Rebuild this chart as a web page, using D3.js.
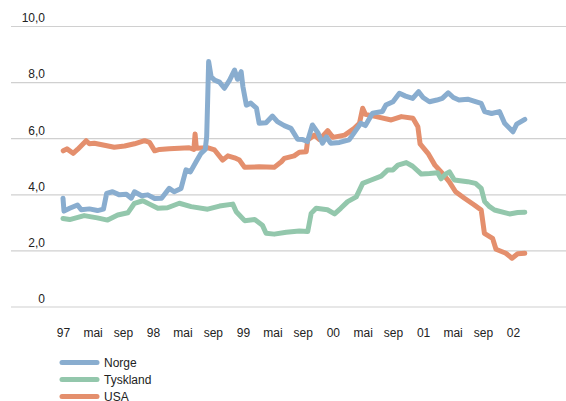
<!DOCTYPE html>
<html>
<head>
<meta charset="utf-8">
<script src="https://cdn.jsdelivr.net/npm/d3@7"></script>
<style>
  html, body { margin: 0; padding: 0; background: #fff; }
  svg { display: block; font-family: "Liberation Sans", Arial, Helvetica, sans-serif; }
</style>
</head>
<body>
<svg id="chart" width="566" height="401"></svg>
<script>
// ---- data ----
const seriesNames = ["Norge", "Tyskland", "USA"];
const seriesColors = ["#89adcf", "#93c7ac", "#e48f6d"];

const norgeDates = ["1997-01-01","1997-01-05","1997-01-28","1997-03-01","1997-03-16","1997-04-18","1997-05-21","1997-06-14","1997-06-27","1997-07-21","1997-08-18","1997-09-15","1997-10-05","1997-10-18","1997-11-16","1997-12-11","1998-01-08","1998-02-05","1998-03-08","1998-03-28","1998-04-25","1998-05-15","1998-06-02","1998-06-25","1998-07-15","1998-08-01","1998-08-07","1998-08-11","1998-08-15","1998-08-25","1998-09-08","1998-09-28","1998-10-18","1998-11-08","1998-11-28","1998-12-10","1998-12-25","1999-01-01","1999-01-15","1999-02-02","1999-02-25","1999-03-08","1999-04-05","1999-05-01","1999-05-21","1999-06-18","1999-07-15","1999-08-11","1999-09-01","1999-09-20","1999-10-10","1999-11-01","1999-11-20","1999-12-06","1999-12-23","2000-01-28","2000-03-07","2000-03-28","2000-04-23","2000-05-12","2000-06-10","2000-07-20","2000-08-03","2000-09-01","2000-09-27","2000-10-22","2000-11-20","2000-12-14","2001-01-01","2001-01-27","2001-02-26","2001-03-20","2001-04-13","2001-05-04","2001-05-27","2001-07-01","2001-08-02","2001-08-25","2001-09-08","2001-10-06","2001-11-07","2001-11-28","2002-01-01","2002-01-16","2002-02-18"];
const norgeValues = [3.86,3.40,3.50,3.62,3.45,3.48,3.42,3.47,4.03,4.09,3.98,4.00,3.86,4.09,3.95,3.98,3.85,3.86,4.21,4.09,4.21,4.87,4.80,5.16,5.46,5.60,6.05,7.36,8.73,8.19,8.07,8.00,7.78,8.07,8.43,8.10,8.37,7.84,7.18,7.25,7.07,6.53,6.55,6.79,6.59,6.45,6.35,5.96,5.95,5.88,6.47,6.20,5.82,6.05,5.82,5.85,5.94,6.20,6.53,6.45,6.89,6.95,7.18,7.30,7.60,7.50,7.42,7.66,7.45,7.30,7.36,7.42,7.62,7.45,7.36,7.39,7.30,7.24,6.95,6.88,6.95,6.53,6.23,6.50,6.67];

const tysklandDates = ["1997-01-01","1997-01-28","1997-03-28","1997-05-20","1997-07-01","1997-08-11","1997-09-21","1997-10-18","1997-11-21","1997-12-18","1998-01-21","1998-03-01","1998-04-18","1998-06-05","1998-08-11","1998-09-28","1998-11-21","1998-12-05","1999-01-08","1999-02-18","1999-03-21","1999-04-05","1999-05-08","1999-06-26","1999-08-18","1999-09-21","1999-10-05","1999-10-25","1999-12-10","2000-01-08","2000-02-02","2000-03-01","2000-04-05","2000-05-01","2000-06-02","2000-07-15","2000-08-11","2000-09-01","2000-09-21","2000-10-25","2000-11-20","2000-12-25","2001-01-28","2001-03-01","2001-03-15","2001-04-02","2001-04-18","2001-05-08","2001-07-01","2001-08-02","2001-08-25","2001-09-08","2001-09-28","2001-10-18","2001-12-18","2002-01-20","2002-02-18"];
const tysklandValues = [3.14,3.10,3.24,3.16,3.08,3.26,3.34,3.68,3.77,3.65,3.50,3.52,3.68,3.56,3.47,3.58,3.65,3.38,3.06,3.10,2.90,2.61,2.58,2.65,2.69,2.67,3.32,3.50,3.45,3.30,3.50,3.74,3.91,4.39,4.50,4.65,4.87,4.87,5.04,5.13,5.00,4.72,4.74,4.77,4.55,4.72,4.80,4.51,4.45,4.39,4.21,3.74,3.56,3.44,3.30,3.35,3.36];

const usaDates = ["1997-01-02","1997-01-17","1997-02-11","1997-03-01","1997-04-05","1997-04-18","1997-05-08","1997-06-18","1997-07-28","1997-09-08","1997-10-18","1997-11-28","1997-12-18","1998-01-08","1998-01-28","1998-03-08","1998-04-18","1998-05-28","1998-06-16","1998-06-21","1998-06-26","1998-08-10","1998-09-08","1998-10-11","1998-11-01","1998-11-28","1998-12-18","1999-01-08","1999-03-08","1999-05-08","1999-06-06","1999-06-18","1999-07-28","1999-08-18","1999-09-15","1999-09-21","1999-10-18","1999-11-08","1999-12-11","2000-01-01","2000-02-18","2000-03-28","2000-04-18","2000-05-01","2000-05-12","2000-06-25","2000-08-25","2000-10-05","2000-11-21","2000-12-11","2000-12-20","2001-01-21","2001-02-18","2001-03-20","2001-04-17","2001-05-13","2001-06-18","2001-07-28","2001-08-25","2001-09-07","2001-10-10","2001-10-24","2001-12-03","2001-12-28","2002-01-20","2002-02-18"];
const usaValues = [5.55,5.62,5.46,5.60,5.91,5.80,5.82,5.75,5.68,5.72,5.80,5.91,5.85,5.55,5.60,5.62,5.64,5.66,5.60,6.15,5.64,5.66,5.58,5.22,5.37,5.30,5.22,4.96,4.98,4.96,5.16,5.28,5.37,5.50,5.52,5.94,6.11,5.95,6.27,6.03,6.11,6.35,6.53,7.07,6.85,6.77,6.65,6.77,6.71,6.41,5.80,5.46,5.04,4.75,4.45,4.09,3.86,3.62,3.44,2.61,2.43,2.04,1.90,1.72,1.88,1.90];

const yTickValues = [0, 2, 4, 6, 8, 10];
const yTickLabels = ["0", "2,0", "4,0", "6,0", "8,0", "10,0"];
const xTickDates = ["1997-01-01","1997-05-01","1997-09-01","1998-01-01","1998-05-01","1998-09-01","1999-01-01","1999-05-01","1999-09-01","2000-01-01","2000-05-01","2000-09-01","2001-01-01","2001-05-01","2001-09-01","2002-01-01"];
const xTickLabels = ["97","mai","sep","98","mai","sep","99","mai","sep","00","mai","sep","01","mai","sep","02"];

// ---- drawing ----
const parse = d3.timeParse("%Y-%m-%d");
const svg = d3.select("#chart");

const x = d3.scaleTime()
  .domain([parse("1997-01-01"), parse("2002-01-01")])
  .range([63, 513]);
const y = d3.scaleLinear().domain([0, 10]).range([306.5, 26]);

const gridLeft = 11, gridRight = 566;

// y axis with gridlines
const yAxis = d3.axisLeft(y)
  .tickValues(yTickValues)
  .tickSize(gridRight - gridLeft)
  .tickFormat((d, i) => yTickLabels[i]);
const gy = svg.append("g").attr("transform", `translate(${gridRight},0)`).call(yAxis);
gy.select(".domain").remove();
gy.selectAll(".tick line").attr("stroke", "#d0d0d0").attr("stroke-width", 1.2);
gy.selectAll(".tick text")
  .attr("x", 45 - gridRight)
  .attr("dy", "-0.35em")
  .attr("text-anchor", "end")
  .attr("font-size", 12)
  .attr("fill", "#222")
  .attr("font-family", "Liberation Sans, Arial, sans-serif");

// x axis labels
const xTicks = xTickDates.map(parse);
const xAxis = d3.axisBottom(x)
  .tickValues(xTicks)
  .tickSize(0)
  .tickFormat((d, i) => xTickLabels[i]);
const gx = svg.append("g").attr("transform", "translate(0,325)").call(xAxis);
gx.select(".domain").remove();
gx.selectAll(".tick text")
  .attr("font-size", 12)
  .attr("fill", "#222")
  .attr("font-family", "Liberation Sans, Arial, sans-serif");

// series
const series = [
  { name: "USA", color: seriesColors[2], dates: usaDates, values: usaValues },
  { name: "Tyskland", color: seriesColors[1], dates: tysklandDates, values: tysklandValues },
  { name: "Norge", color: seriesColors[0], dates: norgeDates, values: norgeValues }
];
const line = d3.line()
  .x(d => x(d.date))
  .y(d => y(d.value));

series.forEach(s => {
  const pts = s.dates.map((d, i) => ({ date: parse(d), value: s.values[i] }));
  svg.append("path")
    .datum(pts)
    .attr("d", line)
    .attr("fill", "none")
    .attr("stroke", s.color)
    .attr("stroke-width", 5)
    .attr("stroke-linejoin", "round")
    .attr("stroke-linecap", "round");
});

// legend
const legend = svg.append("g").attr("transform", "translate(60,362.5)");
seriesNames.forEach((name, i) => {
  const g = legend.append("g").attr("transform", `translate(0,${i * 17})`);
  g.append("line")
    .attr("x1", 2).attr("x2", 37)
    .attr("y1", 0).attr("y2", 0)
    .attr("stroke", seriesColors[i])
    .attr("stroke-width", 5)
    .attr("stroke-linecap", "round");
  g.append("text")
    .attr("x", 44).attr("y", 0)
    .attr("dy", "0.35em")
    .attr("font-size", 12)
    .attr("fill", "#222")
    .text(name);
});
</script>
</body>
</html>
